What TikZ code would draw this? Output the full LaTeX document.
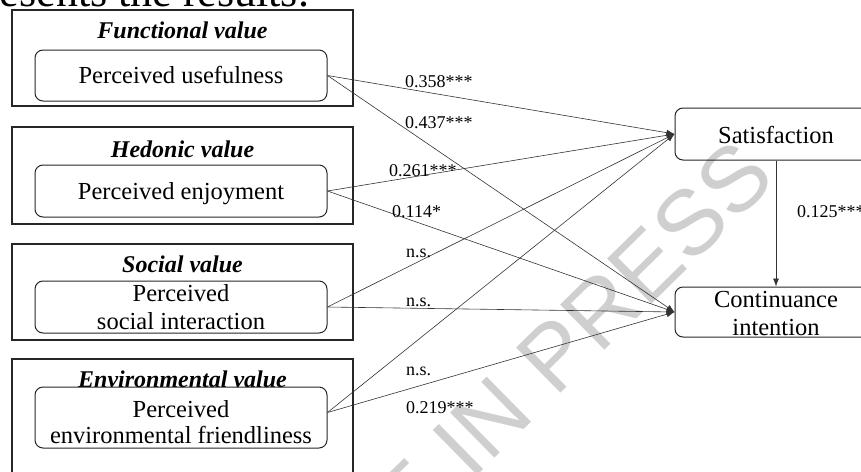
\documentclass[tikz,border=0pt]{standalone}
\usepackage{fontspec}
\setmainfont{Liberation Serif}
\newfontfamily\wmfont{Liberation Sans}
\usetikzlibrary{arrows.meta}
\begin{document}
\begin{tikzpicture}[x=1pt,y=-1pt,
  outerbox/.style={draw=black!85, line width=1.3pt, inner sep=0pt},
  innerbox/.style={draw=black!85, line width=1pt, rounded corners=8pt, inner sep=0pt},
  boxtext/.style={font=\fontsize{24.5}{29}\selectfont, inner sep=0pt, anchor=base},
  titletext/.style={font=\fontsize{24}{29}\selectfont\bfseries\itshape, inner sep=0pt, anchor=base},
  coef/.style={font=\fontsize{18}{21}\selectfont, inner sep=0pt, anchor=base west},
  link/.style={draw=black!80, line width=0.6pt, -{Latex[length=8pt,width=6pt]}},
  watermark/.style={font=\wmfont\fontsize{92}{100}\selectfont, text=black!19, inner sep=0pt, anchor=base east, rotate=44.5},
]
\useasboundingbox (0,0) rectangle (861,471);
\clip (0,0) rectangle (861,471);
% watermark
\node[watermark] (wm) at (778,180) {ARTICLE IN PRESS};
% header text (cut off)
\node[font=\fontsize{44}{50}\selectfont, inner sep=0pt, anchor=base west] (hdr) at (-37,6) {presents the results.};
% outer boxes
\node[outerbox, minimum width=341pt, minimum height=96pt] (fbox) at (182.5,58) {};
\node[outerbox, minimum width=341pt, minimum height=97pt] (hbox) at (182.5,175.5) {};
\node[outerbox, minimum width=341pt, minimum height=96pt] (sbox) at (182.5,292) {};
\node[outerbox, minimum width=341pt, minimum height=121pt] (ebox) at (182.5,419.5) {};
% titles
\node[titletext] (ftitle) at (182.5,38) {Functional value};
\node[titletext] (htitle) at (182.5,157) {Hedonic value};
\node[titletext] (stitle) at (182.5,272) {Social value};
\node[titletext] (etitle) at (182.5,387) {Environmental value};
% inner boxes
\node[innerbox, minimum width=292pt, minimum height=51pt] (pu) at (181,75.5) {};
\node[innerbox, minimum width=292pt, minimum height=52pt] (pe) at (181,191) {};
\node[innerbox, minimum width=292pt, minimum height=52pt] (psi) at (181,307) {};
\node[innerbox, minimum width=292pt, minimum height=61pt] (pef) at (181,417.5) {};
\node[boxtext] (putext) at (181,83) {Perceived usefulness};
\node[boxtext] (petext) at (181,199) {Perceived enjoyment};
\node[boxtext] (psitexta) at (181,301) {Perceived};
\node[boxtext] (psitextb) at (181,329) {social interaction};
\node[boxtext] (peftexta) at (181,417) {Perceived};
\node[boxtext] (peftextb) at (181,443) {environmental friendliness};
% outcome boxes
\node[innerbox, minimum width=202pt, minimum height=52pt] (sat) at (776,134) {};
\node[innerbox, minimum width=202pt, minimum height=50pt] (cont) at (776,312) {};
\node[boxtext] (sattext) at (776,143) {Satisfaction};
\node[boxtext] (conttexta) at (776,307) {Continuance};
\node[boxtext] (conttextb) at (776,335) {intention};
% links
\coordinate (pefout) at ([yshift=5pt]pef.east);
\draw[link] (pu.east) -- (sat.west);
\draw[link] (pu.east) -- (cont.west);
\draw[link] (pe.east) -- (sat.west);
\draw[link] (pe.east) -- (cont.west);
\draw[link] (psi.east) -- (sat.west);
\draw[link] (psi.east) -- (cont.west);
\draw[link] (pefout) -- (sat.west);
\draw[link] (pefout) -- (cont.west);
\draw[link] (sat.south) -- (cont.north);
% coefficients
\node[coef] (c1) at (405,87) {0.358***};
\node[coef] (c2) at (405,128) {0.437***};
\node[coef] (c3) at (389,176) {0.261***};
\node[coef] (c4) at (392,217) {0.114*};
\node[coef] (c5) at (406,257) {n.s.};
\node[coef] (c6) at (406,306) {n.s.};
\node[coef] (c7) at (406,375) {n.s.};
\node[coef] (c8) at (406,413) {0.219***};
\node[coef] (c9) at (797,217) {0.125***};
\end{tikzpicture}
\end{document}
